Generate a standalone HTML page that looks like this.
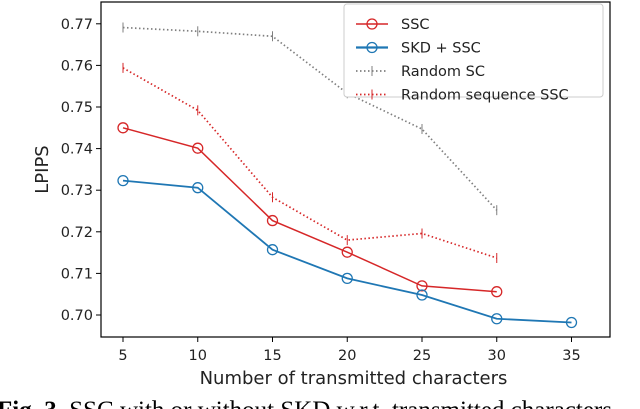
<!DOCTYPE html>
<html><head><meta charset="utf-8"><style>
html,body{margin:0;padding:0;background:#fff;width:640px;height:409px;overflow:hidden}
svg{display:block;font-family:"DejaVu Sans","Liberation Sans",sans-serif}
</style></head><body>
<svg id="chart" width="640" height="409" viewBox="0 0 640 409">
<g id="plot"></g>
<text x="-3" y="418" font-family="Liberation Serif,serif" font-size="25" fill="#000"><tspan font-weight="bold">Fig. 3.</tspan> SSC with or without SKD w.r.t. transmitted characters</text>
</svg>
<script>
const xCats = [5,10,15,20,25,30,35];
const yTicks = [0.70,0.71,0.72,0.73,0.74,0.75,0.76,0.77];
const sscX = [5,10,15,20,25,30];
const sscY = [0.7450,0.7401,0.7227,0.7151,0.7070,0.7056];
const skdX = [5,10,15,20,25,30,35];
const skdY = [0.7323,0.7306,0.7157,0.7088,0.7048,0.6991,0.6982];
const rscX = [5,10,15,20,25,30];
const rscY = [0.7691,0.7682,0.7670,0.7533,0.7447,0.7252];
const rsqX = [5,10,15,20,25,30];
const rsqY = [0.7594,0.7492,0.7283,0.7180,0.7196,0.7137];

const L=101,R=610,T=2,B=337;
const xs=v=>123+(v-5)*14.95;
const ys=v=>315-(v-0.70)*4160;
const NS='http://www.w3.org/2000/svg';
const g=document.getElementById('plot');
function mk(tag,attrs,parent){const e=document.createElementNS(NS,tag);for(const k in attrs)e.setAttribute(k,attrs[k]);(parent||g).appendChild(e);return e;}

const fr=mk('rect',{x:L,y:T,width:R-L,height:B-T,fill:'none',stroke:'#000','stroke-width':1.2});



xCats.forEach(v=>{
  const t=mk('line',{x1:xs(v),x2:xs(v),y1:B,y2:B+5,stroke:'#000'});
  
  
  const l=mk('text',{x:xs(v),y:B+23,'text-anchor':'middle','font-size':14.5,fill:'#222'});
  l.textContent=v;
  
  
});
yTicks.forEach(v=>{
  const t=mk('line',{x1:L-5,x2:L,y1:ys(v),y2:ys(v),stroke:'#000'});
  
  
  const l=mk('text',{x:L-8,y:ys(v)+5,'text-anchor':'end','font-size':14.5,fill:'#222'});
  l.textContent=v.toFixed(2);
  
  
});
const xl=mk('text',{x:(L+R)/2-2,y:384,'text-anchor':'middle','font-size':18,fill:'#222'});
xl.textContent='Number of transmitted characters';


const yl=mk('text',{x:0,y:0,'text-anchor':'middle','font-size':18,fill:'#222',transform:`translate(48,${(T+B)/2}) rotate(-90)`});
yl.textContent='LPIPS';



function series(X,Y,color,dash,marker,name,w){
  const pts=X.map((x,i)=>xs(x)+','+ys(Y[i])).join(' ');
  const p=mk('polyline',{points:pts,fill:'none',stroke:color,'stroke-width':w,'stroke-dasharray':dash||'none'});
  
  
  X.forEach((x,i)=>{
    let m;
    if(marker==='o') m=mk('circle',{cx:xs(x),cy:ys(Y[i]),r:5,fill:'none',stroke:color,'stroke-width':1.3});
    else m=mk('line',{x1:xs(x),x2:xs(x),y1:ys(Y[i])-5,y2:ys(Y[i])+5,stroke:color,'stroke-width':1});
    
    
  });
}
series(rscX,rscY,'#7f7f7f','1.5,2.5','|','random-sc',1.7);
series(rsqX,rsqY,'#d62728','1.5,2.5','|','random-sequence-ssc',1.7);
series(sscX,sscY,'#d62728',null,'o','ssc',1.5);
series(skdX,skdY,'#1f77b4',null,'o','skd-ssc',1.8);

const lg=mk('g',{});


mk('rect',{x:344,y:4,width:259,height:93,rx:3,fill:'#fff',stroke:'#ccc'},lg);
const entries=[['SSC','#d62728',null,'o',1.5],['SKD + SSC','#1f77b4',null,'o',2.2],['Random SC','#7f7f7f','1.5,2.5','|',1.7],['Random sequence SSC','#d62728','1.5,2.5','|',1.7]];
entries.forEach((e,i)=>{
  const y=24+i*23.5;
  const eg=mk('g',{},lg);
  
  
  mk('line',{x1:356,x2:388,y1:y,y2:y,stroke:e[1],'stroke-width':e[4],'stroke-dasharray':e[2]||'none'},eg);
  if(e[3]==='o') mk('circle',{cx:372,cy:y,r:5,fill:'none',stroke:e[1],'stroke-width':1.3},eg);
  else mk('line',{x1:372,x2:372,y1:y-5,y2:y+5,stroke:e[1]},eg);
  const t=mk('text',{x:401,y:y+5,'font-size':14.5,fill:'#222'},eg);
  t.textContent=e[0];
});
</script>
</body></html>
